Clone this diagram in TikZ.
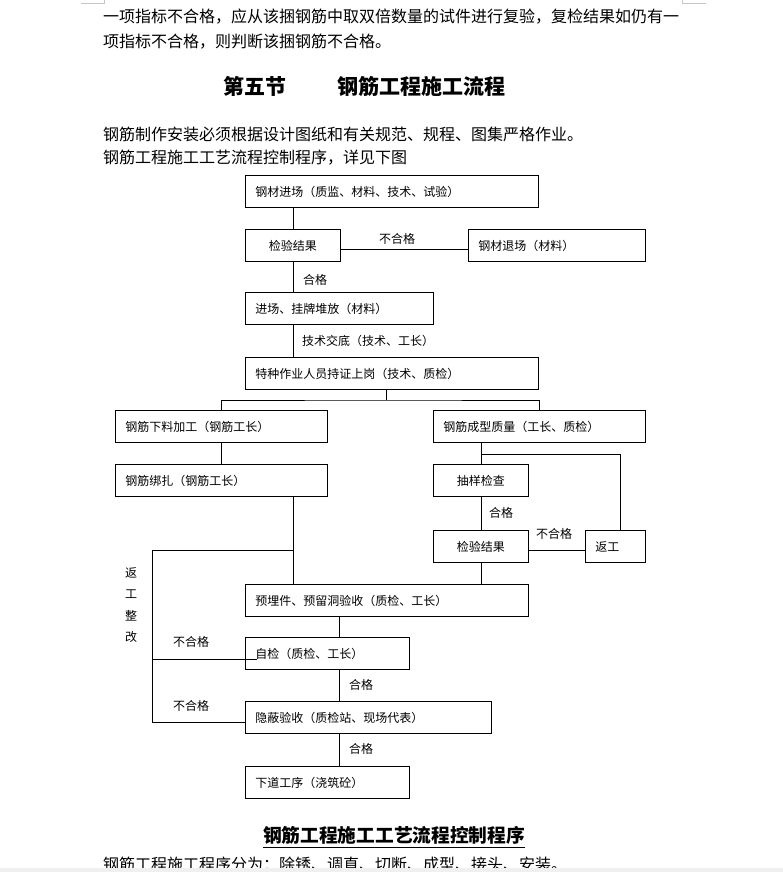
\documentclass[tikz,border=0pt]{standalone}
\usepackage{fontspec}
\newfontfamily\cjk{Noto Sans CJK SC}
\usetikzlibrary{positioning,calc}

\begin{document}
\begin{tikzpicture}[
    x=1pt, y=-1pt,
    flowbox/.style={
        rectangle,
        draw=black,
        line width=0.9pt,
        anchor=north west,
        minimum height=32pt,
        inner xsep=10pt,
        inner ysep=0pt,
        text width=#1,
        align=left,
        font=\cjk\fontsize{12}{14}\selectfont
    },
    midbox/.style={flowbox=#1, align=center},
    lbl/.style={inner sep=0pt, font=\cjk\fontsize{12}{14}\selectfont},
    para/.style={anchor=west, inner sep=0pt, font=\cjk\fontsize{16}{18}\selectfont},
    head/.style={anchor=west, inner sep=0pt, font=\cjk\bfseries\fontsize{21}{24}\selectfont},
    line/.style={line width=0.9pt}
]
\useasboundingbox (0,0) rectangle (783,872);

% page text above the chart
\node[para] (t1) at (103,17) {一项指标不合格，应从该捆钢筋中取双倍数量的试件进行复验，复检结果如仍有一};
\node[para] (t2) at (103,42) {项指标不合格，则判断该捆钢筋不合格。};
\node[head] (h1) at (223,86) {第五节};
\node[head] (h2) at (337,86) {钢筋工程施工流程};
\node[para] (p1) at (103,134) {钢筋制作安装必须根据设计图纸和有关规范、规程、图集严格作业。};
\node[para] (p2) at (103,158) {钢筋工程施工工艺流程控制程序，详见下图};

% main column
\node[flowbox=273pt] (jc) at (245,175) {钢材进场（质监、材料、技术、试验）};
\node[midbox=75pt] (jg1) at (245,229) {检验结果};
\node[flowbox=157pt] (tc) at (468,229) {钢材退场（材料）};
\node[flowbox=168pt] (dp) at (245,292) {进场、挂牌堆放（材料）};
\node[flowbox=273pt] (tz) at (245,357) {特种作业人员持证上岗（技术、质检）};

% two branches
\node[flowbox=192pt] (xl) at (115,410) {钢筋下料加工（钢筋工长）};
\node[flowbox=192pt] (bz) at (115,464) {钢筋绑扎（钢筋工长）};
\node[flowbox=192pt] (cx) at (433,410) {钢筋成型质量（工长、质检）};
\node[midbox=75pt] (cy) at (433,464) {抽样检查};
\node[midbox=75pt] (jg2) at (433,530) {检验结果};
\node[flowbox=40pt] (fg) at (585,530) {返工};

% acceptance
\node[flowbox=263pt] (yl) at (245,584) {预埋件、预留洞验收（质检、工长）};
\node[flowbox=144pt] (zj) at (245,637) {自检（质检、工长）};
\node[flowbox=226pt] (yb) at (245,701) {隐蔽验收（质检站、现场代表）};
\node[flowbox=144pt] (xd) at (245,766) {下道工序（浇筑砼）};

\node[lbl, align=center, font=\cjk\fontsize{12}{21.5}\selectfont] (fgzg) at (131,605) {返\\工\\整\\改};

\coordinate (sp) at (386,400);
\coordinate (br) at (620,454);
\coordinate (bzout) at (293,550);
\coordinate (lf) at (152,550);
\coordinate (mc) at (339,0);
\coordinate (zjin) at ([yshift=-6pt]zj.west);
\coordinate (ybin) at ([yshift=-5pt]yb.west);

\draw[line] (jg1.north |- jc.south) -- (jg1.north);
\draw[line] ([yshift=-4pt]jg1.east) -- ([yshift=-4pt]tc.west);
\draw[line] (jg1.south) -- (jg1.south |- dp.north);
\draw[line] (jg1.south |- dp.south) -- (jg1.south |- tz.north);
\draw[line] (tz.south -| sp) -- (sp);
\draw[line] (xl.north) |- (sp) -| (cx.north);
\draw[line] (xl.south) -- (bz.north);
\draw[line] (cy.north |- cx.south) -- (cy.north);
\draw[line] (cy.north |- br) -| (fg.north -| br);
\draw[line] (cy.south) -- (jg2.north);
\draw[line] ([yshift=-4pt]jg2.east) -- ([yshift=-4pt]fg.west);
\draw[line] (jg2.south) -- (jg2.south |- yl.north);
\draw[line] (bz.south -| bzout) -- (yl.north -| bzout);
\draw[line] (bzout) -- (lf) |- (ybin);
\draw[line] (lf |- zjin) -- ([xshift=12pt]zjin);
\draw[line] (yl.south -| mc) -- (zj.north -| mc);
\draw[line] (zj.south -| mc) -- (yb.north -| mc);
\draw[line] (yb.south -| mc) -- (xd.north -| mc);

% connector labels
\node[lbl] (l1) at (397,239) {不合格};
\node[lbl, anchor=west] (l2) at (303,280) {合格};
\node[lbl, anchor=west] (l3) at (302,341) {技术交底（技术、工长）};
\node[lbl, anchor=west] (l4) at (489,513) {合格};
\node[lbl] (l5) at (554,534) {不合格};
\node[lbl, anchor=west] (l6) at (173,642) {不合格};
\node[lbl, anchor=west] (l7) at (173,706) {不合格};
\node[lbl, anchor=west] (l8) at (349,685) {合格};
\node[lbl, anchor=west] (l9) at (349,749) {合格};

% page text below the chart
\node[inner sep=0pt, font=\cjk\bfseries\fontsize{18.7}{22}\selectfont] (bt) at (394,835) {钢筋工程施工工艺流程控制程序};
\draw[line width=1.2pt] ([yshift=-3pt]bt.south west) -- ([yshift=-3pt]bt.south east);
\node[para] (p3) at (103,864) {钢筋工程施工程序分为：除锈、调直、切断、成型、接头、安装。};

% page edges
\fill[gray!12] (0,868) rectangle (783,872);
\draw[gray!45, line width=0.8pt] (81,3) -- (104,3) -- (104,0);
\draw[gray!45, line width=0.8pt] (682,0) -- (682,3) -- (706,3);
\end{tikzpicture}
\end{document}
